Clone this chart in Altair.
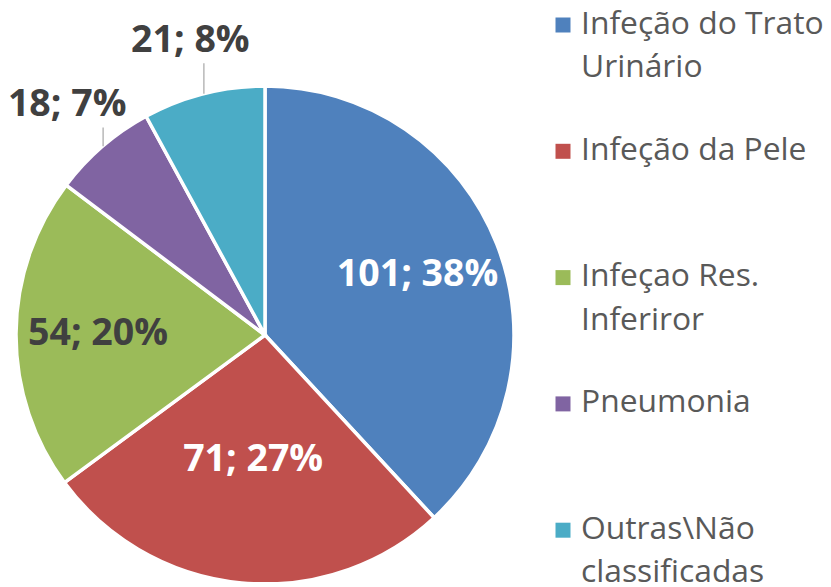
import math
import altair as alt
import pandas as pd

# ---- data ----
categories = ["Infeção do Trato Urinário", "Infeção da Pele", "Infeçao Res. Inferiror",
              "Pneumonia", "Outras\\Não classificadas"]
legend_labels = ["Infeção do Trato\nUrinário", "Infeção da Pele", "Infeçao Res.\nInferiror",
                 "Pneumonia", "Outras\\Não\nclassificadas"]
values = [101, 71, 54, 18, 21]

# ---- style ----
colors = ["#4F81BD", "#C0504D", "#9BBB59", "#8064A2", "#4BACC6"]
FONT = "Open Sans"
CX, CY, R = 257, 327, 248
DARK = "#404040"

total = sum(values)
rows = []
cum = 0
for i, (c, v) in enumerate(zip(categories, values)):
    frac = v / total
    mid = (cum + v / 2) / total * 2 * math.pi
    cum += v
    inside = frac >= 0.1
    r = 121 + 46 * abs(math.sin(mid)) if inside else 303
    lx = CX + r * math.sin(mid)
    ly = CY - r * math.cos(mid)
    ex = CX + R * math.sin(mid)
    ey = CY - R * math.cos(mid)
    lc = "white" if (inside and frac > 0.25) else DARK
    rows.append(dict(idx=i, cat=c, value=v, label=f"{v}; {round(100 * frac)}%",
                     lx=lx, ly=ly, ex=ex, ey=ey - 1, ey2=ly + 22,
                     inside=inside, lc=lc))
df = pd.DataFrame(rows)

leg = pd.DataFrame({"idx": list(range(len(categories))), "cat": categories, "lab": legend_labels})
leg["sy"] = 17 + 126.3 * leg["idx"]
leg["ty"] = leg["sy"] + 8.5

color_scale = alt.Scale(domain=categories, range=colors)

pie = alt.Chart(df).mark_arc(outerRadius=R + 1, stroke="white", strokeWidth=3.5).encode(
    theta=alt.Theta("value:Q", stack=True),
    color=alt.Color("cat:N", scale=color_scale, legend=None),
    order=alt.Order("idx:Q"),
    x=alt.value(CX),
    y=alt.value(CY),
)

labels = alt.Chart(df).mark_text(font=FONT, fontSize=37.5, fontWeight="bold",
                                 align="center", baseline="middle").encode(
    x=alt.X("lx:Q", scale=None),
    y=alt.Y("ly:Q", scale=None),
    text="label:N",
    fill=alt.Fill("lc:N", scale=None),
)

leaders = alt.Chart(df).transform_filter("!datum.inside").mark_rule(
    color="#A6A6A6", strokeWidth=1.2).encode(
    x=alt.X("ex:Q", scale=None),
    y=alt.Y("ey:Q", scale=None),
    y2="ey2:Q",
)

leg_sq = alt.Chart(leg).mark_square(size=225, opacity=1).encode(
    x=alt.value(555),
    y=alt.Y("sy:Q", scale=None),
    color=alt.Color("cat:N", scale=color_scale, legend=None),
)

leg_txt = alt.Chart(leg).transform_calculate(
    lines="split(datum.lab, '\\n')"
).mark_text(font=FONT, fontSize=31.8, color="#595959", align="left",
            baseline="alphabetic", lineHeight=43.5).encode(
    x=alt.value(573),
    y=alt.Y("ty:Q", scale=None),
    text="lines:N",
)

chart = alt.layer(pie, leaders, labels, leg_sq, leg_txt).properties(
    width=815, height=574,
    autosize=alt.AutoSizeParams(type="none"),
    padding=0,
).configure_view(stroke=None)

chart.save("out.html", embed_options={"renderer": "svg", "actions": False})
